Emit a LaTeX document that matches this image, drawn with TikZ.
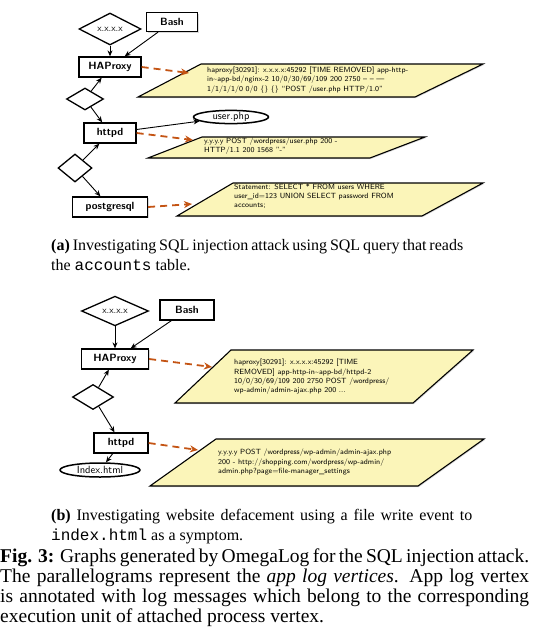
\documentclass[tikz,border=0pt]{standalone}
\usepackage{fontspec}
\setmainfont{Liberation Serif}
\setmonofont{Liberation Mono}
\usetikzlibrary{shapes.geometric,arrows.meta,shadows}
\definecolor{orng}{RGB}{196,84,20}
\definecolor{logyel}{RGB}{251,245,185}
\tikzset{
  proc/.style={draw, line width=1.3pt, fill=white, inner sep=0pt, minimum height=20pt,
    font=\sffamily\bfseries\fontsize{10.5}{12}\selectfont,
    drop shadow={shadow xshift=1.2pt, shadow yshift=-1.2pt, opacity=0.3}},
  diam/.style={diamond, draw, line width=1.3pt, fill=white, inner sep=0pt,
    font=\sffamily\fontsize{9.5}{10}\selectfont},
  filenode/.style={ellipse, draw, line width=1.5pt, fill=white, inner sep=0pt,
    font=\sffamily\fontsize{10.5}{12}\selectfont},
  edgearrow/.style={-{Stealth[length=6pt,width=5pt]}, line width=0.9pt},
  logarrow/.style={-{Stealth[length=8pt,width=7pt,inset=2.5pt]}, line width=1.8pt, draw=orng, dash pattern=on 7pt off 5pt},
  logbox/.style={draw, line width=1.1pt, fill=logyel,
    drop shadow={shadow xshift=1pt, shadow yshift=-1pt, opacity=0.3}},
  logtext/.style={anchor=west, align=left, inner sep=0pt, font=\sffamily\fontsize{7.5}{9.3}\selectfont},
  captext/.style={anchor=base west, inner sep=0pt, font=\fontsize{16}{20}\selectfont},
  figtext/.style={anchor=base west, inner sep=0pt, font=\fontsize{19.5}{20}\selectfont},
}
\begin{document}
\begin{tikzpicture}[x=1pt, y=-1pt]
\useasboundingbox (0,0) rectangle (536,633);

% ---------------- (a) ----------------
\draw[logbox] (201,64) -- (483,64) -- (415,97) -- (138,97) -- cycle;
\draw[logbox] (202,137) -- (425,137) -- (370,158) -- (148,158) -- cycle;
\draw[logbox] (233,183) -- (483,183) -- (422,216) -- (177,216) -- cycle;
\node[logtext] (la1) at (207,80) {haproxy[30291]: x.x.x.x:45292 [TIME REMOVED] app-http-\\in\textasciitilde app-bd/nginx-2 10/0/30/69/109 200 2750 -- -- ---\\1/1/1/1/0 0/0 \{\} \{\} ``POST /user.php HTTP/1.0''};
\node[logtext] (la2) at (204,146) {y.y.y.y POST /wordpress/user.php 200 -\\HTTP/1.1 200 1568 ''-''};
\node[logtext] (la3) at (234,196) {Statement: SELECT * FROM users WHERE\\user\_id=123 UNION SELECT password FROM\\accounts;};

\node[diam, minimum width=62pt, minimum height=32pt] (xa) at (110,29) {x.x.x.x};
\node[proc, minimum width=51pt, minimum height=19pt] (basha) at (172,22) {Bash};
\node[proc, minimum width=62pt] (hapa) at (110,67) {HAProxy};
\node[diam, minimum width=37pt, minimum height=22pt] (d1a) at (85,99) {};
\node[proc, minimum width=52pt] (httpda) at (110,133) {httpd};
\node[diam, minimum width=34pt, minimum height=28pt] (d2a) at (75,168) {};
\node[proc, minimum width=75pt] (pga) at (110,207) {postgresql};
\node[filenode, minimum width=75pt, minimum height=13pt] (usera) at (231,117) {user.php};

\draw[edgearrow] (xa) -- (hapa);
\draw[edgearrow] (basha) -- (hapa);
\draw[edgearrow] (d1a) -- (hapa);
\draw[edgearrow] (d1a) -- (httpda);
\draw[edgearrow] (d2a) -- (httpda);
\draw[edgearrow] (d2a) -- (pga);
\draw[edgearrow] (httpda) -- (usera);

\coordinate (ta1) at (189,73);
\coordinate (ta2) at (193,140);
\coordinate (ta3) at (192,204);
\draw[logarrow] (hapa.east) -- (ta1);
\draw[logarrow] (httpda.east) -- (ta2);
\draw[logarrow] (pga.east) -- (ta3);

\node[captext] (capa1) at (51,250) {\makebox[412pt][s]{\textbf{(a)} Investigating SQL injection attack using SQL query that reads}};
\node[captext] (capa2) at (51,270) {the \texttt{accounts} table.};

% ---------------- (b) ----------------
\draw[logbox] (231,350) -- (473,350) -- (413,403) -- (175,403) -- cycle;
\draw[logbox] (216,439) -- (484,439) -- (418,486) -- (150,486) -- cycle;
\node[logtext] (lb1) at (234,377) {haproxy[30291]: x.x.x.x:45292 [TIME\\REMOVED] app-http-in\textasciitilde app-bd/httpd-2\\10/0/30/69/109 200 2750 POST /wordpress/\\wp-admin/admin-ajax.php 200 ...};
\node[logtext] (lb2) at (218,462) {y.y.y.y POST /wordpress/wp-admin/admin-ajax.php\\200 - http://shopping.com/wordpress/wp-admin/\\admin.php?page=file-manager\_settings};

\node[diam, minimum width=67pt, minimum height=28pt] (xb) at (115,311) {x.x.x.x};
\node[proc, minimum width=54pt] (bashb) at (187,310) {Bash};
\node[proc, minimum width=67pt] (hapb) at (115,359) {HAProxy};
\node[diam, minimum width=41pt, minimum height=25pt] (db) at (93,397) {};
\node[proc, minimum width=54pt] (httpdb) at (121,443) {httpd};
\node[filenode, minimum width=80pt, minimum height=14pt] (indexb) at (100,470) {Index.html};

\draw[edgearrow] (xb) -- (hapb);
\draw[edgearrow] (bashb) -- (hapb);
\draw[edgearrow] (db) -- (hapb);
\draw[edgearrow] (db) -- (httpdb);
\draw[edgearrow] (httpdb) -- (indexb);

\coordinate (tb1) at (212,367);
\coordinate (tb2) at (198,450);
\draw[logarrow] (hapb.east) -- (tb1);
\draw[logarrow] (httpdb.east) -- (tb2);

\node[captext] (capb1) at (51,520) {\makebox[421pt][s]{\textbf{(b)} Investigating website defacement using a file write event to}};
\node[captext] (capb2) at (51,540) {\texttt{index.html} as a symptom.};

% ---------------- figure caption ----------------
\node[figtext] (fig1) at (0,562) {\makebox[529pt][s]{\textbf{Fig. 3:} Graphs generated by OmegaLog for the SQL injection attack.}};
\node[figtext] (fig2) at (0,582) {\makebox[529pt][s]{The parallelograms represent the \textit{app log vertices}. App log vertex}};
\node[figtext] (fig3) at (0,602) {\makebox[529pt][s]{is annotated with log messages which belong to the corresponding}};
\node[figtext] (fig4) at (0,622) {execution unit of attached process vertex.};
\end{tikzpicture}
\end{document}
